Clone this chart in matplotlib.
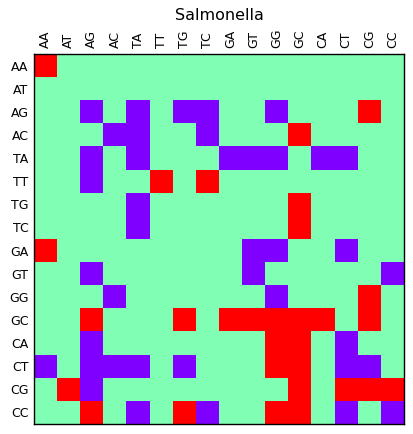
import numpy as np
import matplotlib
matplotlib.use('Agg')
import matplotlib.pyplot as plt

labels = ['AA', 'AT', 'AG', 'AC', 'TA', 'TT', 'TG', 'TC',
          'GA', 'GT', 'GG', 'GC', 'CA', 'CT', 'CG', 'CC']

# 1 = red (high), 0 = green (neutral), -1 = purple (low)
matrix = [
    [1, 0, 0, 0, 0, 0, 0, 0, 0, 0, 0, 0, 0, 0, 0, 0],    # AA
    [0, 0, 0, 0, 0, 0, 0, 0, 0, 0, 0, 0, 0, 0, 0, 0],    # AT
    [0, 0, -1, 0, -1, 0, -1, -1, 0, 0, -1, 0, 0, 0, 1, 0],  # AG
    [0, 0, 0, -1, -1, 0, 0, -1, 0, 0, 0, 1, 0, 0, 0, 0],  # AC
    [0, 0, -1, 0, -1, 0, 0, 0, -1, -1, -1, 0, -1, -1, 0, 0],  # TA
    [0, 0, -1, 0, 0, 1, 0, 1, 0, 0, 0, 0, 0, 0, 0, 0],   # TT
    [0, 0, 0, 0, -1, 0, 0, 0, 0, 0, 0, 1, 0, 0, 0, 0],   # TG
    [0, 0, 0, 0, -1, 0, 0, 0, 0, 0, 0, 1, 0, 0, 0, 0],   # TC
    [1, 0, 0, 0, 0, 0, 0, 0, 0, -1, -1, 0, 0, -1, 0, 0],  # GA
    [0, 0, -1, 0, 0, 0, 0, 0, 0, -1, 0, 0, 0, 0, 0, -1],  # GT
    [0, 0, 0, -1, 0, 0, 0, 0, 0, 0, -1, 0, 0, 0, 1, 0],  # GG
    [0, 0, 1, 0, 0, 0, 1, 0, 1, 1, 1, 1, 1, 0, 1, 0],    # GC
    [0, 0, -1, 0, 0, 0, 0, 0, 0, 0, 1, 1, 0, -1, 0, 0],  # CA
    [-1, 0, -1, -1, -1, 0, -1, 0, 0, 0, 1, 1, 0, -1, -1, 0],  # CT
    [0, 1, -1, 0, 0, 0, 0, 0, 0, 0, 0, 1, 0, 1, 1, 1],   # CG
    [0, 0, 1, 0, -1, 0, 1, -1, 0, 0, 1, 1, 0, -1, 0, -1],  # CC
]

fig = plt.figure(figsize=(4.13, 4.34), dpi=100)
ax = fig.add_axes([34 / 413, 1 - 424 / 434, 370 / 413, 370 / 434])
ax.imshow(np.array(matrix), cmap='rainbow', vmin=-1, vmax=1,
          interpolation='nearest', aspect='auto')

ax.set_xticks(range(len(labels)))
ax.set_yticks(range(len(labels)))
ax.set_xticklabels(labels, rotation=90, fontsize=9)
ax.set_yticklabels(labels, fontsize=9)
ax.xaxis.tick_top()
ax.tick_params(length=0, pad=4)
for s in ax.spines.values():
    s.set_linewidth(1)

fig.text(219 / 413, 1 - 16 / 434, 'Salmonella', ha='center', va='center', fontsize=11.5)

fig.savefig('out.png', dpi=100)
